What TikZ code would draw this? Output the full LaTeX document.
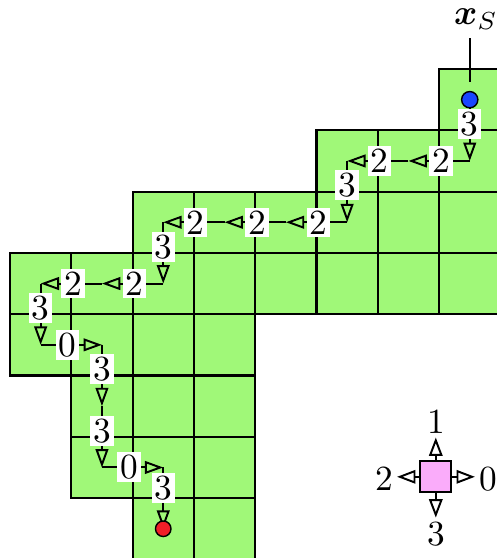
\documentclass[tikz,border=0pt]{standalone}
\usepackage{amsmath,amssymb,bm}
\usetikzlibrary{arrows.meta}
\definecolor{cellgreen}{RGB}{160,248,120}
\definecolor{legpink}{RGB}{250,172,250}
\definecolor{dotblue}{RGB}{25,70,255}
\definecolor{dotred}{RGB}{240,30,40}
\begin{document}
\begin{tikzpicture}[x=0.283pt,y=-0.283pt,
  cellbox/.style={fill=cellgreen,draw=black,line width=0.6pt},
  dirlab/.style={fill=white,inner sep=0.8pt,font=\fontsize{10}{12}\selectfont},
  moveline/.style={line width=0.55pt,-{Triangle[open,length=5.2pt,width=3.6pt]}},
  legarrow/.style={line width=0.55pt,-{Triangle[open,length=5.2pt,width=3.8pt]}},
  leglab/.style={inner sep=1pt,font=\fontsize{10}{12}\selectfont},
  dot/.style={circle,draw=black,line width=0.4pt,inner sep=0pt,minimum size=4.4pt}]
\useasboundingbox (0,0) rectangle (496,558);
\def\s{61.3}
% grid of cells
\foreach \r/\cs in {0/{7},1/{5,6,7},2/{2,3,4,5,6,7},3/{0,1,2,3,4,5,6,7},4/{0,1,2,3},5/{1,2,3},6/{1,2,3},7/{2,3}}{
  \foreach \c in \cs {
    \draw[cellbox] ({10+\s*\c},{69+\s*\r}) rectangle ++(\s,\s);
  }
}
% cell centres
\foreach \c in {0,...,7}{
  \foreach \r in {0,...,7}{
    \coordinate (c\c-\r) at ({10+\s*(\c+0.5)},{69+\s*(\r+0.5)});
  }
}
% path
\draw[moveline] (c7-0) -- node[dirlab,pos=0.4]{3} (c7-1);
\draw[moveline] (c7-1) -- node[dirlab,pos=0.47]{2} (c6-1);
\draw[moveline] (c6-1) -- node[dirlab,pos=0.47]{2} (c5-1);
\draw[moveline] (c5-1) -- node[dirlab,pos=0.4]{3} (c5-2);
\draw[moveline] (c5-2) -- node[dirlab,pos=0.47]{2} (c4-2);
\draw[moveline] (c4-2) -- node[dirlab,pos=0.47]{2} (c3-2);
\draw[moveline] (c3-2) -- node[dirlab,pos=0.47]{2} (c2-2);
\draw[moveline] (c2-2) -- node[dirlab,pos=0.4]{3} (c2-3);
\draw[moveline] (c2-3) -- node[dirlab,pos=0.47]{2} (c1-3);
\draw[moveline] (c1-3) -- node[dirlab,pos=0.47]{2} (c0-3);
\draw[moveline] (c0-3) -- node[dirlab,pos=0.4]{3} (c0-4);
\draw[moveline] (c0-4) -- node[dirlab,pos=0.44]{0} (c1-4);
\draw[moveline] (c1-4) -- node[dirlab,pos=0.4]{3} (c1-5);
\draw[moveline] (c1-5) -- node[dirlab,pos=0.4]{3} (c1-6);
\draw[moveline] (c1-6) -- node[dirlab,pos=0.44]{0} (c2-6);
\draw[moveline] (c2-6) -- node[dirlab,pos=0.33]{3} (c2-7);
% start and goal
\node[dot,fill=dotblue,minimum size=4.6pt] (blue) at (c7-0) {};
\node[dot,fill=dotred] (red) at (c2-7) {};
\node[inner sep=0pt,font=\fontsize{10}{12}\selectfont] (xs) at (476,19) {$\boldsymbol{x}_S$};
\coordinate (xsline) at (470,38);
\draw[line width=0.5pt,shorten >=2.4pt] (xsline) -- (xsline |- blue.north);
% legend
\node[draw=black,fill=legpink,line width=0.6pt,minimum size=8.8pt,inner sep=0pt] (sq) at (435.8,476.8) {};
\node[leglab] (l1) at (436.5,421.5) {1};
\node[leglab] (l0) at (488,479) {0};
\node[leglab] (l2) at (384,479) {2};
\node[leglab] (l3) at (436.5,534) {3};
\draw[legarrow] (sq.north) -- (sq.north |- l1.south);
\draw[legarrow] (sq.east) -- (sq.east -| l0.west);
\draw[legarrow] (sq.west) -- (sq.west -| l2.east);
\draw[legarrow] (sq.south) -- (sq.south |- l3.north);
\end{tikzpicture}
\end{document}
